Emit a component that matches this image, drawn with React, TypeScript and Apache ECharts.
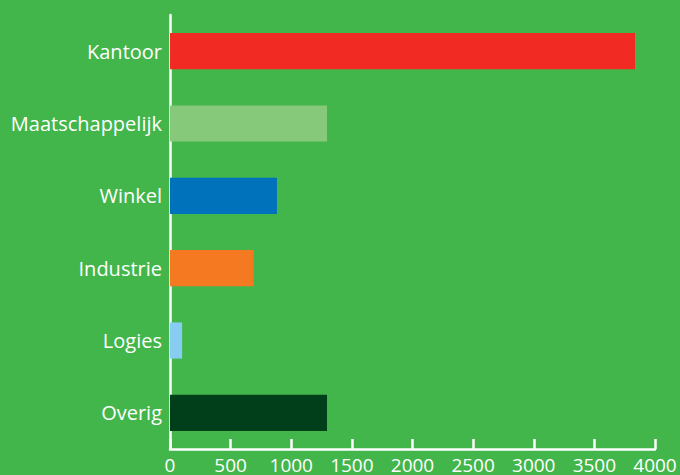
import React, { useEffect, useRef } from "react";
import * as echarts from "echarts";

const categories = ["Kantoor", "Maatschappelijk", "Winkel", "Industrie", "Logies", "Overig"];
const values = [3835, 1295, 882, 690, 100, 1295];
const barColors = ["#f12b24", "#86c97a", "#0072bc", "#f47920", "#87cdf2", "#003f1a"];

export default function App() {
  const ref = useRef<HTMLDivElement>(null);
  useEffect(() => {
    const chart = echarts.init(ref.current!, null, { renderer: "svg" });
    chart.setOption({
      animation: false,
      backgroundColor: "#43b64b",
      textStyle: { fontFamily: "Open Sans" },
      grid: { left: 170, right: 25, top: 15, bottom: 26, containLabel: false },
      xAxis: {
        type: "value",
        min: 0,
        max: 4000,
        interval: 500,
        axisLine: { show: true, lineStyle: { color: "#ffffff", width: 2.5 } },
        axisTick: { show: true, inside: true, length: 10, lineStyle: { color: "#ffffff", width: 2.5 } },
        splitLine: { show: false },
        axisLabel: {
          color: "#ffffff",
          fontSize: 19,
          margin: 6,
          fontFamily: "Open Sans",
          formatter: (v: number) => String(v),
        },
      },
      yAxis: {
        type: "category",
        inverse: true,
        data: categories,
        axisLine: { show: true, lineStyle: { color: "#ffffff", width: 2.5 } },
        axisTick: { show: false },
        axisLabel: { color: "#ffffff", fontSize: 20, margin: 8, fontFamily: "Open Sans" },
      },
      series: [
        {
          type: "bar",
          barWidth: "50%",
          data: values.map((v, i) => ({ value: v, itemStyle: { color: barColors[i] } })),
        },
      ],
    });
    return () => chart.dispose();
  }, []);
  return (
    <div
      ref={ref}
      style={{ position: "fixed", left: 0, top: 0, width: 680, height: 475 }}
    />
  );
}
